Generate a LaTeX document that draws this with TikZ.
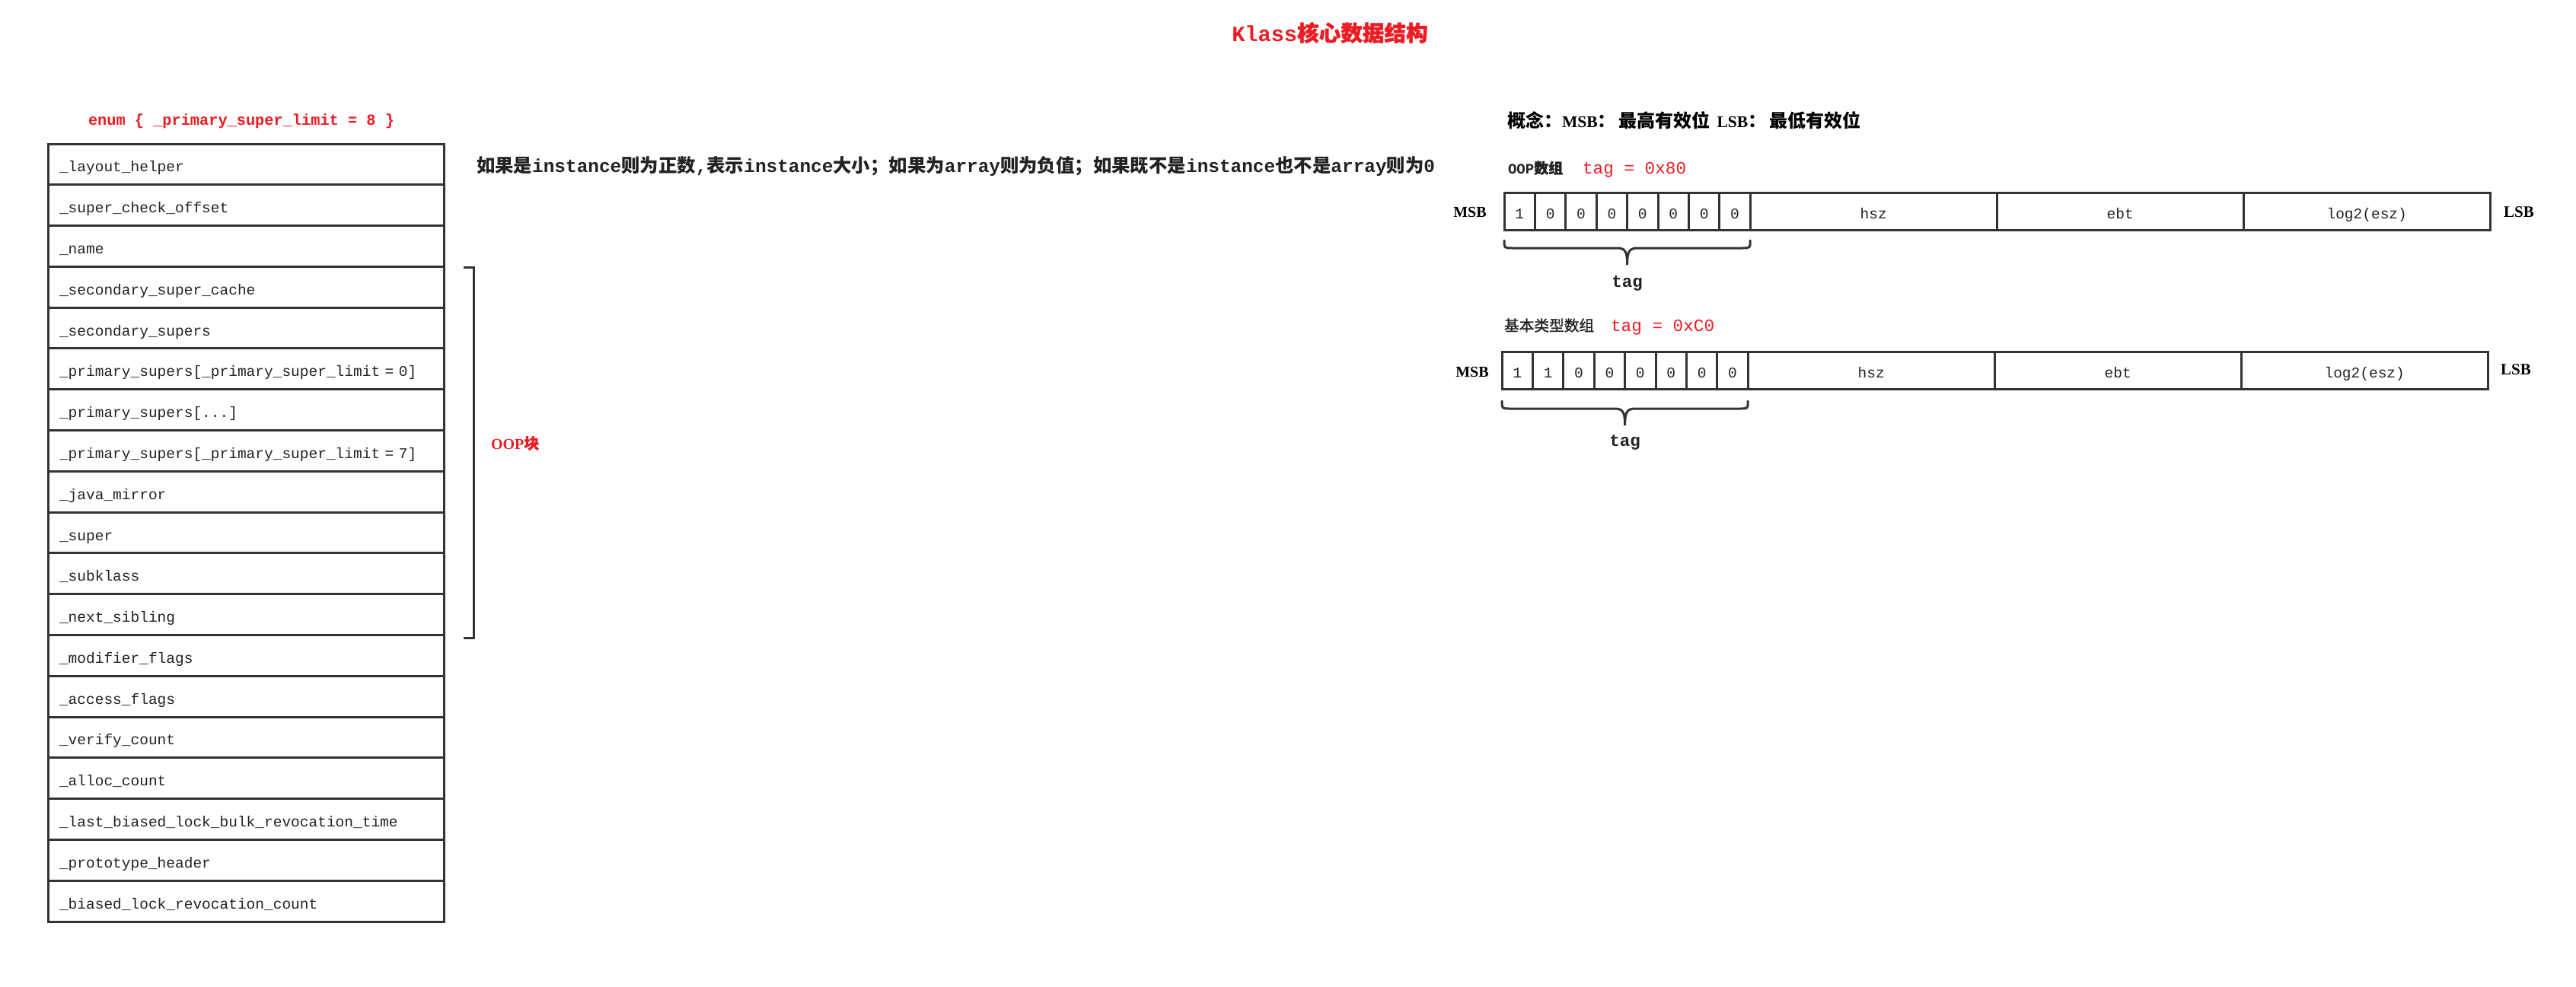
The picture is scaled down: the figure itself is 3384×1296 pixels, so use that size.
\documentclass[tikz,border=0pt]{standalone}
\usepackage{fontspec}
\setmainfont{Liberation Serif}
\setmonofont{Liberation Mono}
\newfontfamily\cjk{Noto Sans CJK SC}
\newfontfamily\cjkb[FakeBold=1.2]{Noto Sans CJK SC}
\definecolor{ln}{HTML}{333333}
\definecolor{tx}{HTML}{222222}
\definecolor{rd}{HTML}{ED1C24}
\newcommand\drawbrace[3]{%
  \pgfmathsetmacro\xm{(#1+#2)/2}%
  \draw[ln, line width=3pt, line cap=round] (#1,#3) .. controls (#1,#3+10) .. (#1+11,#3+10) -- (\xm-13,#3+10) .. controls (\xm-2,#3+10) and (\xm,#3+16) .. (\xm,#3+32) .. controls (\xm,#3+16) and (\xm+2,#3+10) .. (\xm+13,#3+10) -- (#2-11,#3+10) .. controls (#2,#3+10) .. (#2,#3);}
\begin{document}
\begin{tikzpicture}[x=1pt,y=-1pt,
  every node/.style={inner sep=0pt, outer sep=0pt},
  rowbox/.style={draw=ln, line width=3pt, minimum width=520pt, minimum height=53.79pt,
    anchor=north west, inner xsep=15pt, text width=490pt, align=left,
    text height=22pt, text depth=2pt, font=\ttfamily\fontsize{19.5}{20}\selectfont, text=tx},
  cell/.style={draw=ln, line width=3pt, minimum height=49.5pt, anchor=north west,
    text height=22pt, text depth=2pt, font=\ttfamily\fontsize{19.5}{20}\selectfont, text=tx},
  bitbox/.style={cell, minimum width=40.4pt},
  fldbox/.style={cell, minimum width=324pt},
  redmono/.style={text=rd, font=\ttfamily\bfseries\fontsize{#1}{#1}\selectfont},
  blk/.style={text=tx, font=\ttfamily\bfseries\fontsize{#1}{#1}\selectfont},
  serifb/.style={text=black, font=\rmfamily\bfseries\fontsize{#1}{#1}\selectfont},
]
\useasboundingbox (0,0) rectangle (3384,1296);
\fill[white] (0,0) rectangle (3384,1296);

% title
\node[redmono=28.6, anchor=base] (title) at (1747,54) {Klass{\cjkb 核心数据结构}};

% enum
\node[redmono=20.3, anchor=base west] (enum) at (116,164) {enum \{ \_primary\_super\_limit = 8 \}};

% table rows
\foreach \i/\t in {1/{\_layout\_helper},2/{\_super\_check\_offset},3/{\_name},
  4/{\_secondary\_super\_cache},5/{\_secondary\_supers},
  6/{\_primary\_supers[\_primary\_super\_limit = 0]},7/{\_primary\_supers[...]},
  8/{\_primary\_supers[\_primary\_super\_limit = 7]},9/{\_java\_mirror},10/{\_super},
  11/{\_subklass},12/{\_next\_sibling},13/{\_modifier\_flags},14/{\_access\_flags},
  15/{\_verify\_count},16/{\_alloc\_count},17/{\_last\_biased\_lock\_bulk\_revocation\_time},
  18/{\_prototype\_header},19/{\_biased\_lock\_revocation\_count}}
  \node[rowbox] (r\i) at ({63},{189+(\i-1)*53.79}) {\t};

% description of layout_helper
\node[blk=24.4, anchor=base west] (desc) at (626,226)
  {{\cjk 如果是}instance{\cjk 则为正数}{,}{\cjk 表示}instance{\cjk 大小；如果为}array{\cjk 则为负值；如果既不是}instance{\cjk 也不是}array{\cjk 则为}0};

% OOP bracket
\coordinate (bt) at (609,351);
\coordinate (bb) at (609,838);
\draw[ln, line width=3pt] (bt) -- ++(13,0) |- (bb);
\node[anchor=base west, text=rd, font=\rmfamily\bfseries\fontsize{20}{20}\selectfont] (oop) at (645,590) {OOP{\cjkb 块}};

% concept line
\node[anchor=base west, text=black, font=\bfseries\fontsize{24}{24}\selectfont] (concept) at (1980,167)
  {{\cjk 概念：}{\rmfamily\fontsize{21.5}{22}\selectfont MSB}{\cjk ：}\hspace{4pt}{\cjk 最高有效位}\hspace{3pt} {\rmfamily\fontsize{21.5}{22}\selectfont LSB}{\cjk ：}\hspace{4pt}{\cjk 最低有效位}};

% OOP array
\node[blk=19, anchor=base west] (lab1) at (1981,228) {OOP{\cjkb 数组}};
\node[anchor=base west, text=rd, font=\ttfamily\fontsize{22.7}{22.7}\selectfont] (tag1) at (2079,228) {tag = 0x80};
\foreach \i/\v in {1/1,2/0,3/0,4/0,5/0,6/0,7/0,8/0}
  \node[bitbox] (a\i) at ({1976+(\i-1)*40.4},253) {\v};
\foreach \j/\v in {1/hsz,2/ebt,3/log2(esz)}
  \node[fldbox] (af\j) at ({1976+323.2+(\j-1)*324},253) {\v};
\node[serifb=20, anchor=base] (msb1) at (1931,285) {MSB};
\node[serifb=21, anchor=base] (lsb1) at (3309,285) {LSB};
\drawbrace{1976}{2299.2}{316}
\node[blk=22.5, anchor=base] (tagb1) at (2137.6,377) {tag};

% primitive array
\node[text=tx, font=\fontsize{19.7}{20}\selectfont\cjkb, anchor=base west] (lab2) at (1976,435) {基本类型数组};
\node[anchor=base west, text=rd, font=\ttfamily\fontsize{22.7}{22.7}\selectfont] (tag2) at (2116,435) {tag = 0xC0};
\foreach \i/\v in {1/1,2/1,3/0,4/0,5/0,6/0,7/0,8/0}
  \node[bitbox] (c\i) at ({1973+(\i-1)*40.4},462) {\v};
\foreach \j/\v in {1/hsz,2/ebt,3/log2(esz)}
  \node[fldbox] (cf\j) at ({1973+323.2+(\j-1)*324},462) {\v};
\node[serifb=20, anchor=base] (msb2) at (1934,495) {MSB};
\node[serifb=21, anchor=base] (lsb2) at (3305,492) {LSB};
\drawbrace{1973}{2296.2}{527}
\node[blk=22.5, anchor=base] (tagb2) at (2134.6,586) {tag};
\end{tikzpicture}
\end{document}
